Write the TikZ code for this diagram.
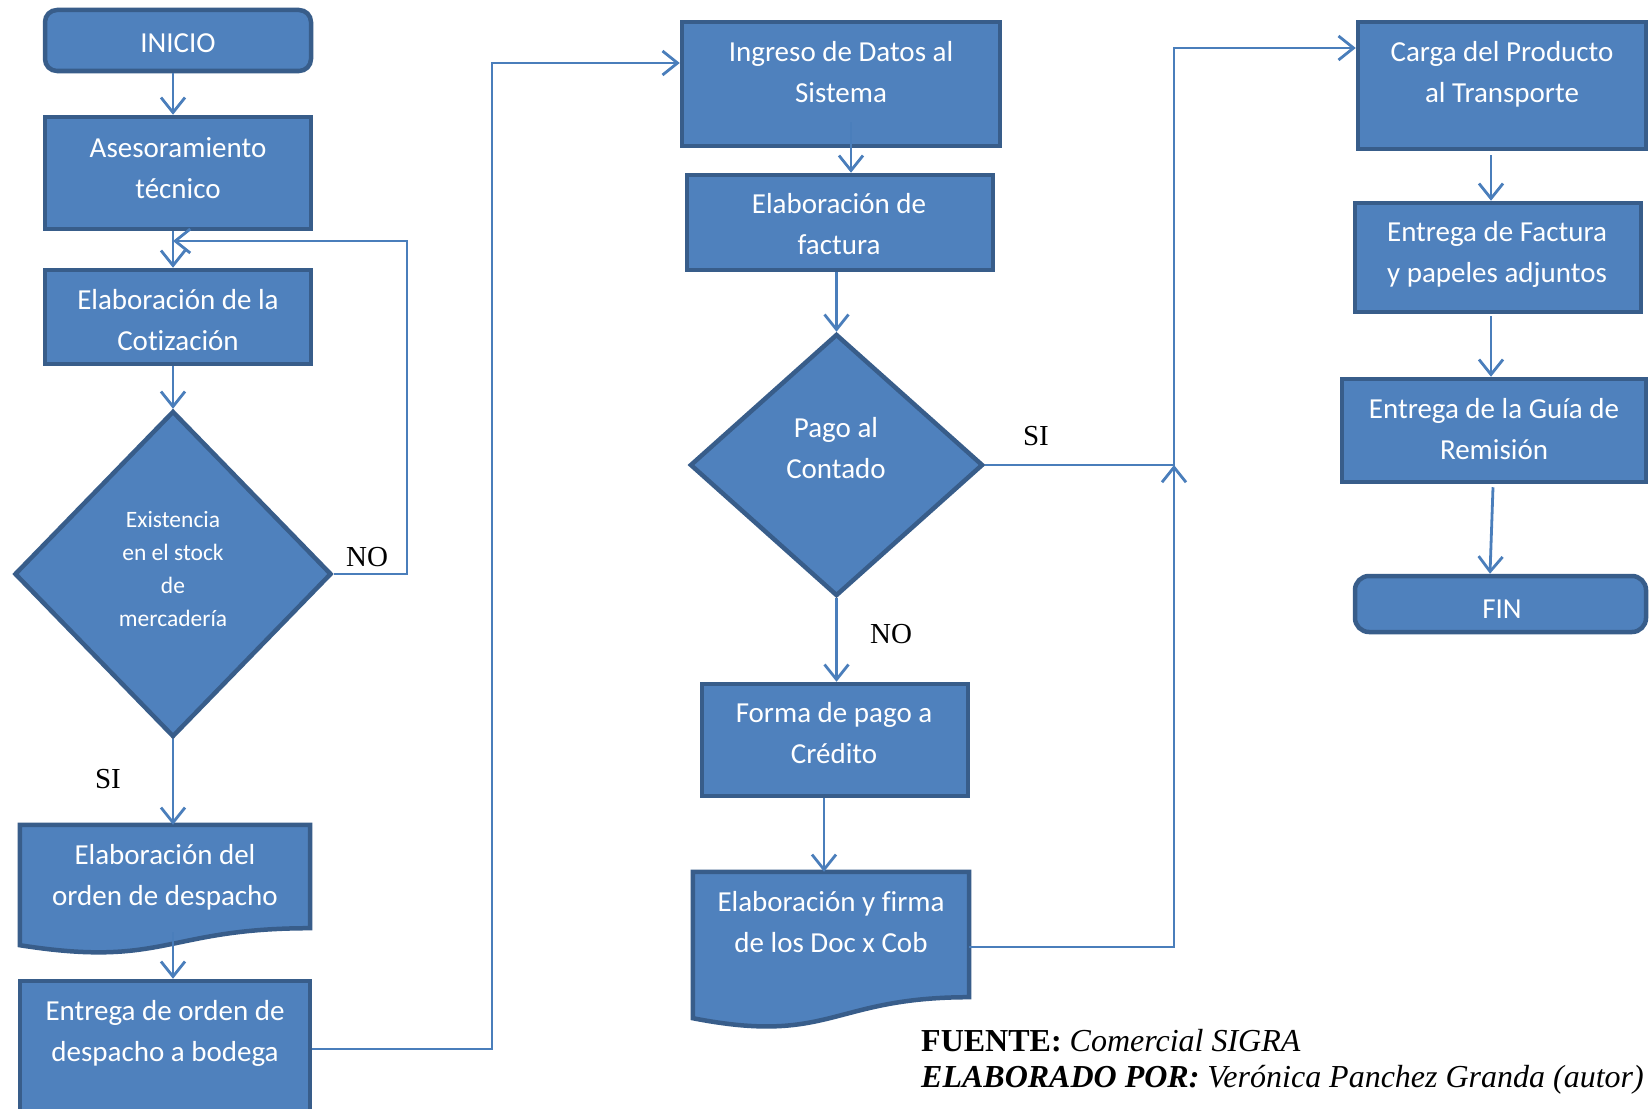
\documentclass[tikz,border=0pt]{standalone}
\usepackage{fontspec}
\setmainfont{Liberation Serif}
\newfontfamily\boxfont[Ligatures=NoCommon]{Carlito}
\usetikzlibrary{shapes.geometric,arrows.meta,calc}
\definecolor{fil}{HTML}{4F81BD}
\definecolor{bdr}{HTML}{385D8A}
\definecolor{lin}{HTML}{4A7EBB}
\begin{document}
\begin{tikzpicture}[x=1pt,y=-1pt,
  shp/.style={draw=bdr,fill=fil,line width=4.5pt},
  rbox/.style={shp,rectangle,inner sep=0pt},
  ghost/.style={rectangle,inner sep=0pt,draw=none},
  dia/.style={shp,diamond,inner sep=0pt},
  conn/.style={draw=lin,line width=2.8pt},
  arr/.style={conn,-{Straight Barb[length=15pt,width=24pt]}},
  txt/.style={text=white,font=\boxfont\fontsize{29}{41}\selectfont,align=center,inner sep=0pt},
  stxt/.style={text=white,font=\boxfont\fontsize{23.5}{33}\selectfont,align=center,inner sep=0pt},
  lbl/.style={font=\fontsize{29}{33}\selectfont,inner sep=0pt},
  foot/.style={font=\fontsize{32}{36}\selectfont,inner sep=0pt,anchor=base west}]
\clip (0,0) rectangle (1651,1108);
\fill[white] (0,0) rectangle (1651,1108);

% ---------- column 1 ----------
\node[rbox,rounded corners=12pt,minimum width=266pt,minimum height=61pt] (start) at (178,40.5) {};
\node[rbox,minimum width=266pt,minimum height=112pt] (ases) at (178,173) {};
\node[rbox,minimum width=266pt,minimum height=94pt] (cot) at (178,317) {};
\node[dia,minimum width=317pt,minimum height=326pt] (dec1) at (173,574) {};
\node[ghost,minimum width=290pt,minimum height=103pt] (orden) at (165,876.5) {};
\path[shp] (orden.north west) -- (orden.north east) -- (orden.south east)
  .. controls (orden.south) and ($(orden.south)+(0,40)$) .. ($(orden.south west)+(0,17)$) -- cycle;
\node[rbox,minimum width=290pt,minimum height=136pt] (entrega) at (165,1049) {};

\node[txt] (t-start) at (178,44) {INICIO\strut};
\node[txt] (t-ases) at (178,169.5) {Asesoramiento\strut\\t\'ecnico\strut};
\node[txt] (t-cot) at (178,322) {Elaboraci\'on de la\strut\\Cotizaci\'on\strut};
\node[stxt] (t-dec1) at (173,570) {Existencia\strut\\en el stock\strut\\de\strut\\mercader\'ia\strut};
\node[txt] (t-orden) at (165,877) {Elaboraci\'on del\strut\\orden de despacho\strut};
\node[txt] (t-entrega) at (165,1033) {Entrega de orden de\strut\\despacho a bodega\strut};

% ---------- column 2 ----------
\node[rbox,minimum width=318pt,minimum height=124pt] (ingreso) at (841,84) {};
\node[rbox,minimum width=306pt,minimum height=95pt] (factura) at (840,222.5) {};
\node[dia,minimum width=293pt,minimum height=262pt] (pago) at (836.5,465) {};
\node[rbox,minimum width=266pt,minimum height=112pt] (forma) at (835,740) {};
\node[ghost,minimum width=276pt,minimum height=125pt] (doc) at (831,934.5) {};
\path[shp] (doc.north west) -- (doc.north east) -- (doc.south east)
  .. controls (doc.south) and ($(doc.south)+(0,48)$) .. ($(doc.south west)+(0,21)$) -- cycle;

\node[txt] (t-ingreso) at (841,74) {Ingreso de Datos al\strut\\Sistema\strut};
\node[txt] (t-factura) at (839,226) {Elaboraci\'on de\strut\\factura\strut};
\node[txt] (t-pago) at (836,450) {Pago al\strut\\Contado\strut};
\node[txt] (t-forma) at (834,735) {Forma de pago a\strut\\Cr\'edito\strut};
\node[txt] (t-doc) at (831,924) {Elaboraci\'on y firma\strut\\de los Doc x Cob\strut};

% ---------- column 3 ----------
\node[rbox,minimum width=288pt,minimum height=127pt] (carga) at (1502,85.5) {};
\node[rbox,minimum width=286pt,minimum height=109pt] (efact) at (1498,257.5) {};
\node[rbox,minimum width=304pt,minimum height=103pt] (guia) at (1494,430.5) {};
\node[rbox,rounded corners=14pt,minimum width=291pt,minimum height=56pt] (fin) at (1500.5,604) {};

\node[txt] (t-carga) at (1502,73.5) {Carga del Producto\strut\\al Transporte\strut};
\node[txt] (t-efact) at (1497,254) {Entrega de Factura\strut\\y papeles adjuntos\strut};
\node[txt] (t-guia) at (1494,430.5) {Entrega de la Gu\'ia de\strut\\Remisi\'on\strut};
\node[txt] (t-fin) at (1502,610) {FIN\strut};

% ---------- coordinates ----------
\coordinate (c1) at (492,63);
\coordinate (a8) at (851,122);
\coordinate (c11) at (824,0);
\coordinate (jn) at (1174,465);
\coordinate (c14) at (1491,0);

% ---------- connectors ----------
\draw[arr] (dec1.north |- start.south) -- (dec1.north |- ases.north);
\draw[arr] (dec1.north |- ases.south) -- (dec1.north |- cot.north);
\draw[arr] (dec1.north |- cot.south) -- (dec1.north);
\draw[arr] (dec1.east) -- (407,574) |- (dec1.north |- 0,241);
\draw[arr] (dec1.south) -- (dec1.south |- orden.north);
\draw[arr] ($(dec1.south |- orden.south)+(0,4)$) -- (dec1.south |- entrega.north);
\draw[arr] (entrega.east) -| (c1) -- (ingreso.west |- c1);

\draw[arr] (a8) -- (a8 |- factura.north);
\draw[arr] (pago.north |- factura.south) -- (pago.north);
\draw[arr] (pago.south) -- (pago.south |- forma.north);
\draw[arr] (forma.south -| c11) -- (doc.north -| c11);
\draw[arr] (doc.east |- 0,947) -| (jn);
\draw[arr] (pago.east) -- (jn) |- (carga.west |- 0,48);

\draw[arr] ($(carga.south -| c14)+(0,4)$) -- (efact.north -| c14);
\draw[arr] ($(efact.south -| c14)+(0,2)$) -- (guia.north -| c14);
\draw[arr] ($(guia.south -| 1493,0)+(0,3)$) -- (fin.north -| 1490,0);

% ---------- labels ----------
\node[lbl] (no1) at (367,557) {NO};
\node[lbl] (si1) at (108,779) {SI};
\node[lbl] (no2) at (891,634) {NO};
\node[lbl] (si2) at (1036,436) {SI};

\node[foot] (f1) at (921,1051) {\textbf{FUENTE:} \textit{Comercial SIGRA}};
\node[foot] (f2) at (921,1087) {\textbf{\textit{ELABORADO POR:}} \textit{Ver\'onica Panchez Granda (autor)}};
\end{tikzpicture}
\end{document}
